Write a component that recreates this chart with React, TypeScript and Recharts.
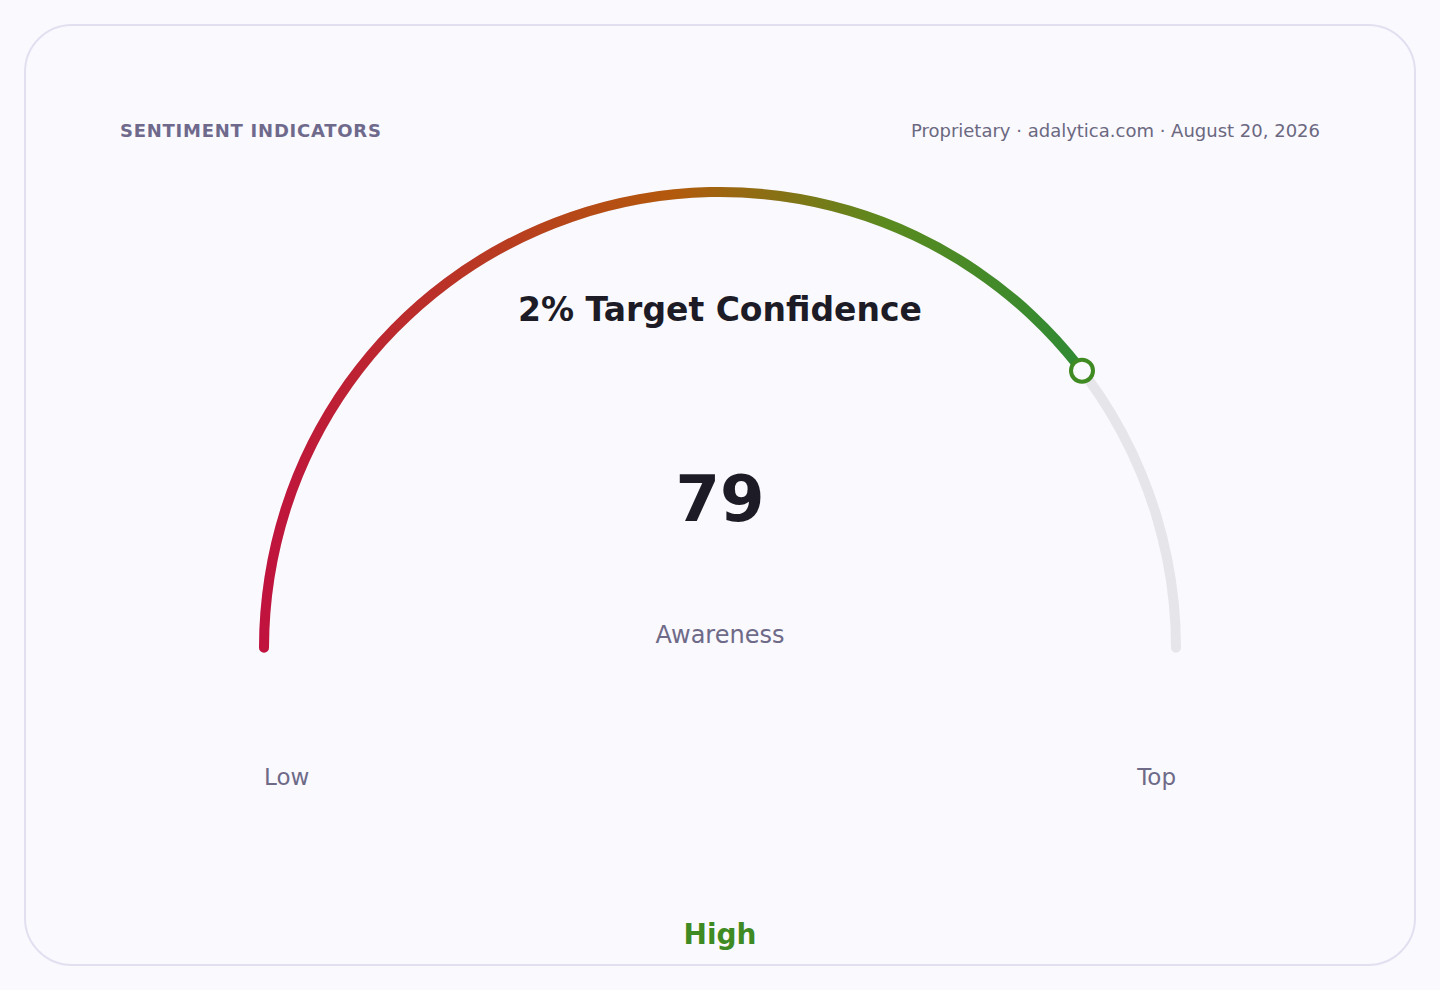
import { PieChart, Pie, Cell } from "recharts"

const gaugeValue = 79
const gaugeMax = 100
const gaugeData = [
  { name: "score", value: gaugeValue },
  { name: "rest", value: gaugeMax - gaugeValue },
]
const trackData = [{ name: "track", value: gaugeMax }]
const title = "2% Target Confidence"
const metricLabel = "Awareness"
const scaleLabels = ["Low", "Top"]
const bandLabel = "High"

const FONT = "'DejaVu Sans', Verdana, sans-serif"
const MUTED = "#6e6a88"
const GREEN = "#3f8a22"

const CX = 720
const CY = 648
// a little extra sweep so the rounded ends sit on the baseline
const START = 180.6
const END = -0.6

function renderMarker(props: any) {
  if (props.index !== 0) return null
  const start = props.startAngle ?? START
  const end = props.endAngle ?? 2 * props.midAngle - start
  const r = (props.innerRadius + props.outerRadius) / 2
  const rad = (end * Math.PI) / 180
  const x = props.cx + r * Math.cos(rad)
  const y = props.cy - r * Math.sin(rad)
  return <circle cx={x} cy={y} r={11} fill="#f9f9fe" stroke={GREEN} strokeWidth={4} />
}

export default function App() {
  return (
    <div
      style={{
        position: "absolute",
        left: 0,
        top: 0,
        width: 1440,
        height: 990,
        background: "#f9f9fe",
        fontFamily: FONT,
      }}
    >
      <div
        style={{
          position: "absolute",
          left: 24,
          top: 24,
          width: 1388,
          height: 938,
          border: "2px solid #e2e0f0",
          borderRadius: 48,
        }}
      />
      <PieChart
        width={1440}
        height={990}
        margin={{ top: 0, right: 0, bottom: 0, left: 0 }}
        style={{ position: "absolute", left: 0, top: 0 }}
      >
        <defs>
          <linearGradient id="gaugeGrad" x1="0" y1="0" x2="1" y2="0">
            <stop offset="0%" stopColor="#c0123e" />
            <stop offset="50%" stopColor="#b3590c" />
            <stop offset="76%" stopColor="#5a8a1e" />
            <stop offset="100%" stopColor="#2f8a34" />
          </linearGradient>
        </defs>
        <Pie
          data={trackData}
          dataKey="value"
          cx={CX}
          cy={CY}
          startAngle={START}
          endAngle={END}
          innerRadius={451}
          outerRadius={461}
          cornerRadius={5}
          stroke="none"
          fill="#e6e6ea"
          isAnimationActive={false}
        />
        <Pie
          data={gaugeData}
          dataKey="value"
          cx={CX}
          cy={CY}
          startAngle={START}
          endAngle={END}
          innerRadius={451}
          outerRadius={461}
          cornerRadius={5}
          stroke="none"
          label={renderMarker}
          labelLine={false}
          isAnimationActive={false}
        >
          <Cell fill="url(#gaugeGrad)" />
          <Cell fill="transparent" />
        </Pie>
        <text x={120} y={137} fontFamily={FONT} fontSize={18} fontWeight="bold" letterSpacing={0.75} fill="#6f6a8c">
          SENTIMENT INDICATORS
        </text>
        <text x={1320} y={137} textAnchor="end" fontFamily={FONT} fontSize={18} fill="#6b6880">
          Proprietary · adalytica.com · August 20, 2026
        </text>
        <text x={CX} y={321} textAnchor="middle" fontFamily={FONT} fontSize={33} fontWeight="bold" fill="#1c1b26">
          {title}
        </text>
        <text x={CX} y={521} textAnchor="middle" fontFamily={FONT} fontSize={64} fontWeight="bold" fill="#1c1b26">
          {gaugeValue}
        </text>
        <text x={CX} y={643} textAnchor="middle" fontFamily={FONT} fontSize={24} fill={MUTED}>
          {metricLabel}
        </text>
        <text x={264} y={785} fontFamily={FONT} fontSize={23} fill={MUTED}>
          {scaleLabels[0]}
        </text>
        <text x={1176} y={785} textAnchor="end" fontFamily={FONT} fontSize={23} fill={MUTED}>
          {scaleLabels[1]}
        </text>
        <text x={CX} y={944} textAnchor="middle" fontFamily={FONT} fontSize={28} fontWeight="bold" fill={GREEN}>
          {bandLabel}
        </text>
      </PieChart>
    </div>
  )
}
